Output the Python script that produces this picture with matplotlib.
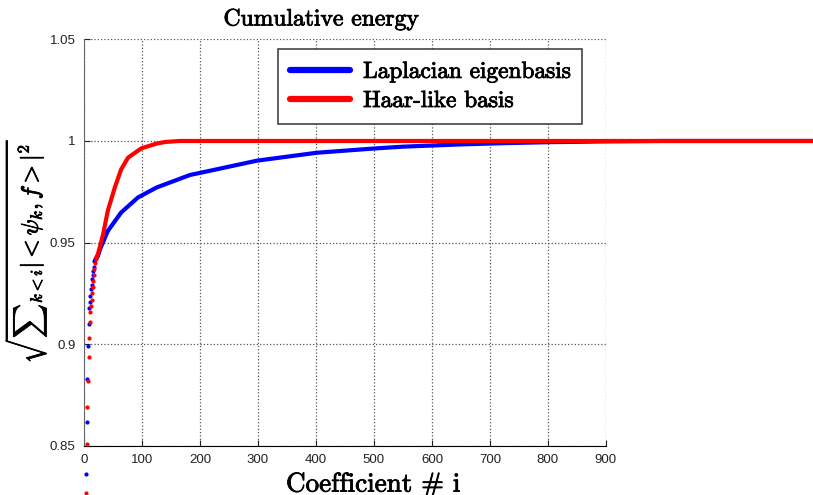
import numpy as np
import matplotlib.pyplot as plt
import matplotlib.patheffects as pe
from matplotlib.lines import Line2D

plt.rcParams['mathtext.fontset'] = 'cm'
serif = ['cmr10', 'DejaVu Serif']
heavy = [pe.withStroke(linewidth=0.6, foreground='black')]

# first coefficients, drawn as separate dots
lap_dot_x = [4, 5, 6, 7, 8, 9, 10, 11, 12, 13, 14, 15, 16, 17, 18]
lap_dot_y = [0.836, 0.862, 0.883, 0.899, 0.910, 0.918, 0.921, 0.924,
             0.927, 0.929, 0.932, 0.934, 0.936, 0.938, 0.941]
haar_dot_x = [4, 5, 6, 7, 8, 9, 10, 11, 12, 13, 14, 15, 16, 17, 18, 19, 20]
haar_dot_y = [0.827, 0.851, 0.869, 0.882, 0.894, 0.903, 0.911, 0.916, 0.919,
              0.922, 0.925, 0.928, 0.931, 0.934, 0.937, 0.940, 0.942]

# rest of the curves
lap_x = [18, 24, 28, 41, 64, 93, 125, 183, 200, 298, 401, 500, 550, 648,
         720, 800, 900, 1000, 1300]
lap_y = [0.941, 0.9434, 0.947, 0.9557, 0.9648, 0.9722, 0.9771, 0.9833,
         0.9843, 0.9903, 0.9942, 0.9963, 0.9972, 0.9983, 0.9989, 0.9994,
         0.9998, 1.0, 1.0]
haar_x = [20, 24, 33, 41, 53, 64, 76, 99, 125, 140, 165, 1300]
haar_y = [0.942, 0.9443, 0.9541, 0.9656, 0.977, 0.986, 0.9918, 0.9964,
          0.9987, 0.9995, 1.0, 1.0]

xticks = [0, 100, 200, 300, 400, 500, 600, 700, 800, 900]
yticks = [0.85, 0.9, 0.95, 1.0, 1.05]
ytick_labels = ['0.85', '0.9', '0.95', '1', '1.05']

fig = plt.figure(figsize=(8.13, 4.95), dpi=100)
ax = fig.add_axes([0.1033, 0.099, 0.642, 0.8216])

lw = 3.0
ax.plot(lap_x, lap_y, color='#0000ff', lw=lw, clip_on=False,
        solid_capstyle='butt', zorder=3)
ax.plot(lap_dot_x, lap_dot_y, '.', color='#0000ff', ms=4, clip_on=False,
        zorder=3)
ax.plot(haar_x, haar_y, color='#ff0000', lw=lw, clip_on=False,
        solid_capstyle='butt', zorder=4)
ax.plot(haar_dot_x, haar_dot_y, '.', color='#ff0000', ms=4, clip_on=False,
        zorder=4)

ax.set_xlim(0, 900)
ax.set_ylim(0.85, 1.05)
ax.set_xticks(xticks)
ax.set_yticks(yticks)
ax.set_yticklabels(ytick_labels)
ax.tick_params(direction='in', length=4, labelsize=9.5, colors='#222222',
               pad=6, labelfontfamily='Liberation Sans')
ax.grid(True, linestyle=':', color='#555555', linewidth=0.9)
ax.spines['top'].set_visible(False)
ax.spines['right'].set_visible(False)
ax.spines['left'].set_color('#666666')
ax.spines['bottom'].set_color('black')

t = ax.set_title('Cumulative energy', fontsize=17, family=serif,
                 x=0.454, pad=10)
t.set_path_effects(heavy)
xl = ax.set_xlabel('Coefficient # i', fontsize=19.5, family=serif)
xl.set_path_effects(heavy)
ax.xaxis.set_label_coords(0.554, -0.066)
yl = ax.set_ylabel(r'$\sqrt{{\sum}_{k<i}|<\psi_k,f>|^2}$', fontsize=17)
yl.set_path_effects(heavy)
ax.yaxis.set_label_coords(-0.066, 0.479)

handles = [Line2D([], [], color='#0000ff', lw=4.5, solid_capstyle='round'),
           Line2D([], [], color='#ff0000', lw=4.5, solid_capstyle='round')]
leg = ax.legend(handles, ['Laplacian eigenbasis', 'Haar-like basis'],
                loc='upper left', bbox_to_anchor=(0.3716, 0.976),
                borderaxespad=0, prop={'family': serif, 'size': 16.8},
                fancybox=False, handlelength=2.6, handletextpad=0.55,
                borderpad=0.5, labelspacing=0.3, framealpha=1)
leg.get_frame().set_edgecolor('#444444')
leg.get_frame().set_linewidth(1.2)
for txt in leg.get_texts():
    txt.set_path_effects(heavy)

fig.savefig('out.png', dpi=100)
